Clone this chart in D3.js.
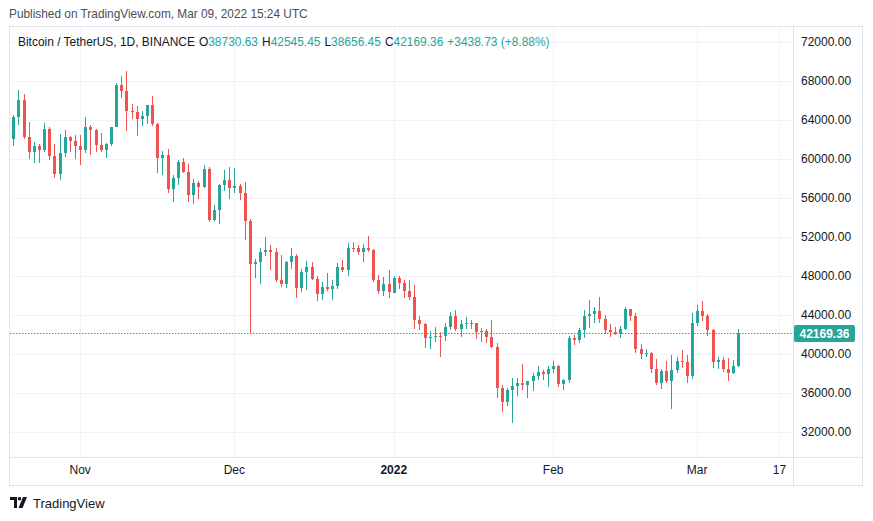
<!DOCTYPE html>
<html><head><meta charset="utf-8">
<script src="https://cdn.jsdelivr.net/npm/d3@7"></script>
<style>
html,body{margin:0;padding:0;background:#fff;}
svg{display:block;font-family:"Liberation Sans",Arial,sans-serif;}
</style></head><body>
<svg id="c" width="873" height="521"></svg>
<script>
// ---- data (BTC/USDT daily, Binance) ----
const firstDay = "2021-10-19";
const lastDay = "2022-03-09";
const openP = [
62031,64262,66001,62193,60688,61286,60852,63078,60328,58413,60575,62253,61859,
61300,60911,63220,62896,61395,60940,61470,63273,67525,66947,64882,64774,64122,64380,65519,63606,60058,60344,56891,58057,59707,58617,56247,57541,57138,58960,53724,54716,57274,57776,
56950,57184,56484,53601,49152,49396,50441,50588,50471,47535,47140,49389,50053,46702,48336,48864,47632,46133,46834,46681,46914,48889,48588,50839,50822,50429,50809,50640,47588,46444,47178,
46216,47722,47286,46446,45832,43451,43082,41566,41672,41846,41822,42736,43916,42558,43071,43120,43100,42250,42375,41744,40680,36445,35071,36244,36660,36958,36808,37160,37716,38166,37881,
38466,38694,36896,37311,41571,41382,42380,43839,44043,44372,43565,42407,42217,42053,42535,44544,43873,40516,40000,40090,38386,37008,38230,37250,38328,39219,39116,37699,
43160,44421,43892,42454,39148,39397,38420,37988,38730.63];
const highP = [
64486,67000,66639,63732,61747,61500,63710,63293,61496,62499,62980,62359,62405,
62437,64270,63500,63086,62595,61560,63286,67789,68524,69000,65600,65450,64915,65550,66401,63617,60840,60976,58320,59845,60029,59444,57875,57735,59398,59150,55280,57445,58865,59176,
59053,57375,57600,53859,49699,50891,51936,51200,50797,50125,49485,50800,50189,48700,49500,49436,47995,47392,48300,47537,49328,49576,51375,51450,51156,51280,52088,50704,48120,47900,48548,
47954,47990,47570,47557,47070,43816,43145,42300,42786,42248,43100,44322,44500,43448,43800,43473,43195,42675,42560,43505,41100,36835,36499,37550,37545,38919,37234,38000,38720,38359,38744,
39265,38855,37387,41772,41913,42656,44500,45492,44799,45821,43920,43016,42760,42876,44751,44549,44164,40959,40444,40125,39494,38429,39249,39843,39683,40348,39855,44225,
44950,45400,44100,42527,39613,39693,39547,39362,42545.45];
const lowP = [
61322,63482,62000,60000,59562,59510,60650,59821,58000,57820,60174,60673,59945,
59405,60624,60382,60677,60721,60050,61322,63273,66222,62822,64100,62278,63303,63576,63400,58574,58373,56474,55600,57353,58486,55610,55317,55837,57000,53500,53610,53256,56666,55875,
56458,55777,51680,42000,47727,47100,50039,48600,47320,46852,46751,48638,45672,46290,46547,47511,45456,45500,46406,45558,46630,48421,47920,50384,50142,49412,50449,47313,46096,45900,45678,
46208,46654,45696,45500,42500,42430,40610,40501,41200,39650,41269,42450,42311,41725,42562,42581,41540,41250,41077,40553,35440,34008,34601,32917,35701,36234,35507,36155,37268,37351,36632,
38000,36586,36250,37026,40843,41116,41645,42666,43117,43174,42000,41688,41870,41570,42427,43307,40073,39450,39639,38000,36800,36350,37036,34322,38014,38573,37000,37450,
42809,43334,41832,38550,38407,38088,37155,37867,38656.45];
const closeP = [
64262,66001,62193,60688,61286,60852,63078,60328,58413,60575,62253,61859,61299,
60911,63219,62896,61395,60937,61470,63273,67525,66947,64882,64774,64122,64380,65519,63606,60058,60344,56891,58052,59707,58622,56247,57541,57138,58960,53726,54721,57274,57776,56950,
57184,56480,53601,49152,49396,50441,50588,50471,47545,47140,49389,50053,46702,48343,48864,47632,46131,46834,46681,46914,48889,48588,50838,50821,50429,50809,50640,47588,46444,47179,46306,
47722,47286,46446,45832,43451,43082,41566,41672,41846,41822,42736,43916,42558,43071,43099,43020,42250,42375,41744,40680,36445,35071,36244,36660,36958,36809,37160,37716,38166,37881,38466,
38694,36896,37311,41575,41382,42380,43840,44042,44372,43565,42407,42217,42053,42535,44544,43873,40515,40000,40090,38386,37008,38230,37250,38328,39219,39116,37699,43160,
44421,43892,42454,39148,39397,38420,37988,38730,42169.36];

const priceTicks = [32000,36000,40000,44000,48000,52000,56000,60000,64000,68000,72000];
const timeTickDates = ["2021-11-01","2021-12-01","2022-01-01","2022-02-01","2022-03-01","2022-03-17"];
const timeTickLabels = ["Nov","Dec","2022","Feb","Mar","17"];
const timeTickBold = [false,false,true,false,false,false];

const headerText = "Published on TradingView.com, Mar 09, 2022 15:24 UTC";
const symbolText = "Bitcoin / TetherUS, 1D, BINANCE";
const lastPrice = 42169.36;
const changeText = "+3438.73 (+8.88%)";

// ---- layout ----
const W = 873, H = 521;
const L = 9.5, R = 793.5, T = 26.5, B = 457.5, RR = 862.5, BB = 485.5;
const GREEN = "#26a69a", RED = "#ef5350", TEXT = "#131722", GRID = "#f0f3fa", BORDER = "#e0e3eb";

const parse = d3.utcParse("%Y-%m-%d");
const dates = d3.utcDay.range(parse(firstDay), d3.utcDay.offset(parse(lastDay), 1));
const data = dates.map((d, i) => ({date: d, o: openP[i], h: highP[i], l: lowP[i], c: closeP[i]}));

const x = d3.scaleUtc().domain([parse("2021-10-19"), parse("2022-03-17")]).range([13.3, 779.4]);
const y = d3.scaleLinear().domain([32000, 72000]).range([431.7, 41.7]);

const svg = d3.select("#c");
svg.append("rect").attr("width", W).attr("height", H).attr("fill", "#fff");

// header
svg.append("text").attr("x", 9).attr("y", 18).attr("font-size", 11.85).attr("fill", "#4a4e59").text(headerText);

// grid
const g = svg.append("g");
g.selectAll("line.h").data(priceTicks).join("line")
  .attr("x1", L).attr("x2", R).attr("y1", d => Math.round(y(d)) + 0.5).attr("y2", d => Math.round(y(d)) + 0.5)
  .attr("stroke", GRID).attr("stroke-width", 1);
g.selectAll("line.v").data(timeTickDates).join("line")
  .attr("x1", d => Math.round(x(parse(d))) + 0.5).attr("x2", d => Math.round(x(parse(d))) + 0.5)
  .attr("y1", T).attr("y2", B).attr("stroke", GRID).attr("stroke-width", 1);

// frame
svg.append("rect").attr("x", L).attr("y", T).attr("width", RR - L).attr("height", BB - T)
  .attr("fill", "none").attr("stroke", BORDER);
svg.append("line").attr("x1", R).attr("x2", R).attr("y1", T).attr("y2", BB).attr("stroke", BORDER);
svg.append("line").attr("x1", L).attr("x2", RR).attr("y1", B).attr("y2", B).attr("stroke", BORDER);

// candles
svg.append("clipPath").attr("id", "pc").append("rect").attr("x", L).attr("y", T).attr("width", R - L).attr("height", B - T);
const cg = svg.append("g").attr("clip-path", "url(#pc)").attr("shape-rendering", "crispEdges");
const cx = d => Math.round(x(d.date));
const col = d => d.c >= d.o ? GREEN : RED;
cg.selectAll("rect.w").data(data).join("rect")
  .attr("x", d => cx(d)).attr("width", 1)
  .attr("y", d => Math.round(y(d.h))).attr("height", d => Math.max(1, Math.round(y(d.l)) - Math.round(y(d.h))))
  .attr("fill", col);
cg.selectAll("rect.b").data(data).join("rect")
  .attr("x", d => cx(d) - 1).attr("width", 3)
  .attr("y", d => Math.round(y(Math.max(d.o, d.c))))
  .attr("height", d => Math.max(1, Math.round(y(Math.min(d.o, d.c))) - Math.round(y(Math.max(d.o, d.c)))))
  .attr("fill", col);

// last price line (dotted)
const ly = Math.round(y(lastPrice)) + 0.5;
svg.append("line").attr("x1", L + 0.5).attr("x2", R).attr("y1", ly).attr("y2", ly)
  .attr("stroke", GREEN).attr("stroke-width", 1.2).attr("stroke-dasharray", "1.5,1.5");

// price axis labels
svg.append("g").selectAll("text").data(priceTicks).join("text")
  .attr("x", 801).attr("y", d => y(d) + 4).attr("font-size", 12).attr("fill", TEXT)
  .text(d => d3.format(".2f")(d));

// last price tag
svg.append("rect").attr("x", 794).attr("y", ly - 8.5).attr("width", 61).attr("height", 17).attr("rx", 2).attr("fill", GREEN);
svg.append("text").attr("x", 824.5).attr("y", ly + 4).attr("text-anchor", "middle").attr("font-size", 12)
  .attr("font-weight", "bold").attr("fill", "#fff").text(d3.format(".2f")(lastPrice));

// time axis labels
svg.append("g").selectAll("text").data(timeTickDates).join("text")
  .attr("x", d => x(parse(d))).attr("y", 474).attr("text-anchor", "middle").attr("font-size", 12)
  .attr("font-weight", (d, i) => timeTickBold[i] ? "bold" : "normal").attr("fill", TEXT)
  .text((d, i) => timeTickLabels[i]);

// legend
const last = data[data.length - 1];
const lg = svg.append("text").attr("x", 18).attr("y", 46).attr("font-size", 11.95).attr("fill", TEXT);
lg.append("tspan").text(symbolText);
const parts = [["O", last.o], ["H", last.h], ["L", last.l], ["C", last.c]];
parts.forEach((p, i) => {
  lg.append("tspan").attr("dx", 4).text(p[0]);
  lg.append("tspan").attr("fill", GREEN).text(d3.format(".2f")(p[1]));
});
lg.append("tspan").attr("dx", 4).attr("fill", GREEN).text(changeText);

// footer logo
const logo = svg.append("g").attr("transform", "translate(10,497)").attr("fill", TEXT);
logo.append("path").attr("d", "M0 0 H7 V11 H4 V3 H0 Z");
logo.append("circle").attr("cx", 9.5).attr("cy", 1.8).attr("r", 1.8);
logo.append("path").attr("d", "M13 0 H17 L12.5 11 H8.5 Z");
svg.append("text").attr("x", 33).attr("y", 508).attr("font-size", 13).attr("fill", TEXT).text("TradingView");
</script></body></html>
